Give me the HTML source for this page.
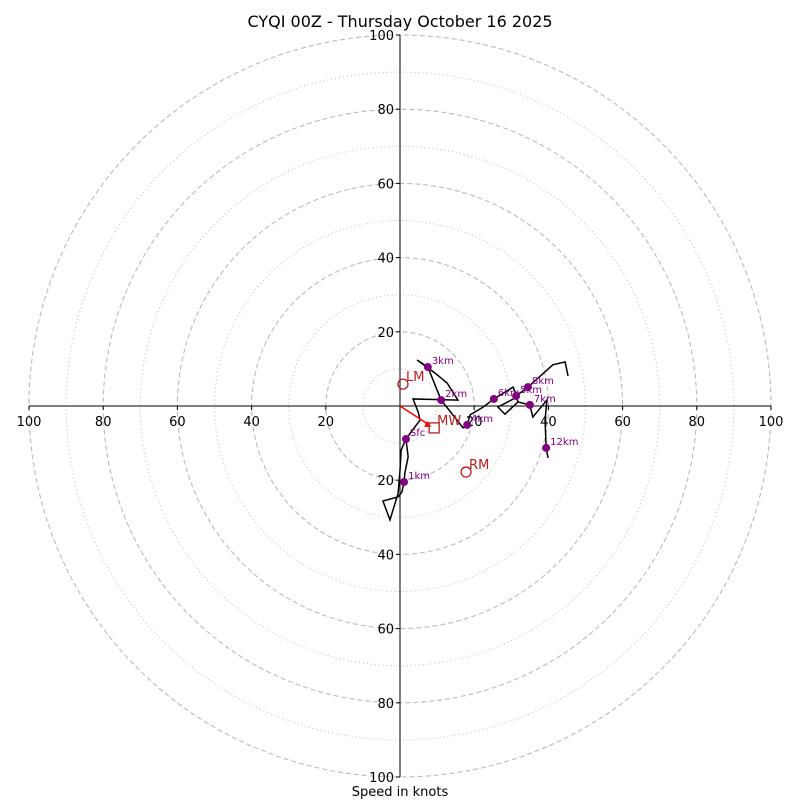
<!DOCTYPE html>
<html><head><meta charset="utf-8"><style>
body{margin:0;background:#fff;}
svg{display:block;font-family:"DejaVu Sans","Liberation Sans",sans-serif;}
</style></head><body>
<svg id="chart" width="800" height="800" viewBox="0 0 800 800">
<text x="400" y="27" text-anchor="middle" font-size="16">CYQI 00Z - Thursday October 16 2025</text>
<g id="rings"></g><g id="axes"></g><g id="series"></g>
<text x="400" y="796" text-anchor="middle" font-size="13">Speed in knots</text>
</svg>
<script>
const ringValues=[10,20,30,40,50,60,70,80,90,100];
const tickValues=[20,40,60,80,100];
const hodoU=[1.6,2.2,1.3,1.1,0.5,-0.5,-4.6,-2.7,-0.5,0,0.3,1.6,5.4,4.9,3.5,15.6,12.7,9.4,4.6,7.5,10.0,11.1,17.0,18.1,18.9,22.4,25.3,30.5,31.5,26.4,28.3,31.8,31.3,34.5,41.2,44.5,45.3];
const hodoV=[-8.9,-13.7,-18.1,-20.5,-23.2,-24.5,-25.6,-30.7,-23.5,-17.3,-11.9,-8.9,-3.8,-1.6,1.9,1.6,6.2,8.9,12.4,10.5,4.3,1.6,-5.9,-5.1,-2.4,-0.3,1.9,5.1,2.4,-0.3,-2.2,1.1,2.7,5.1,11.1,11.9,8.1];
const upperU=[31.8,35.0,35.8,39.6,39.1,39.4,39.9];
const upperV=[1.1,0.3,-3.0,1.6,-3.8,-11.3,-14.0];
const markerLabels=["Sfc","1km","2km","3km","4km","5km","6km","7km","8km","12km"];
const markerU=[1.6,1.1,11.1,7.5,18.1,31.3,25.3,35.0,34.5,39.4];
const markerV=[-8.9,-20.5,1.6,10.5,-5.1,2.7,1.9,0.3,5.1,-11.3];
const motionLabels=["LM","RM"];
const motionU=[0.8,17.8];
const motionV=[5.9,-17.8];
const meanWindU=9.2, meanWindV=-5.9;

const CX=400,CY=406,K=3.71;
const sx=u=>CX+u*K, sy=v=>CY-v*K;
const NS="http://www.w3.org/2000/svg";
function mk(tag,parent,attrs){const e=document.createElementNS(NS,tag);for(const k in attrs)e.setAttribute(k,attrs[k]);parent.appendChild(e);return e;}
const rings=document.getElementById('rings'),axes=document.getElementById('axes'),ser=document.getElementById('series');
ringValues.forEach(r=>{
  const c=mk('circle',rings,{cx:CX,cy:CY,r:r*K,fill:'none',stroke:'#bbb','stroke-width':r%20===0?1.1:1,'stroke-dasharray':r%20===0?'5,3':'1,3'});
  
  
});
let l=mk('line',axes,{x1:sx(-100),y1:CY,x2:sx(100),y2:CY,stroke:'#000','stroke-width':1});


l=mk('line',axes,{x1:CX,y1:sy(100),x2:CX,y2:sy(-100),stroke:'#000','stroke-width':1});


tickValues.forEach(t=>{
  [-1,1].forEach(s=>{
    const x=sx(s*t);
    mk('line',axes,{x1:x,y1:CY,x2:x,y2:CY+4,stroke:'#000'});
    const tx=mk('text',axes,{x:x,y:CY+20,'text-anchor':'middle','font-size':13});
    tx.textContent=t;
    
    
    const y=sy(s*t);
    mk('line',axes,{x1:CX-4,y1:y,x2:CX,y2:y,stroke:'#000'});
    const ty=mk('text',axes,{x:CX-6,y:y+5,'text-anchor':'end','font-size':13});
    ty.textContent=t;
    
    
  });
});
function poly(U,V,name){
  const p=mk('polyline',ser,{points:U.map((u,i)=>sx(u)+','+sy(V[i])).join(' '),fill:'none',stroke:'#000','stroke-width':1.5,'stroke-linejoin':'miter'});
  
  
}
poly(hodoU,hodoV,'hodograph-trace');
poly(upperU,upperV,'hodograph-trace-upper');
const ax=sx(meanWindU),ay=sy(meanWindV);
const ar=mk('line',ser,{x1:CX,y1:CY,x2:ax-5,y2:ay-3,stroke:'red','stroke-width':1.5});


mk('polygon',ser,{points:`${ax-3},${ay-1} ${ax-10},${ay-1} ${ax-7},${ay-7}`,fill:'red'});
const sq=mk('rect',ser,{x:ax-5,y:ay-5,width:10,height:10,fill:'none',stroke:'#b22222','stroke-width':1.3});


const mwt=mk('text',ser,{x:ax+3,y:ay-3,'font-size':13,fill:'#b22222'});mwt.textContent='MW';


motionLabels.forEach((n,i)=>{
  const x=sx(motionU[i]),y=sy(motionV[i]);
  const c=mk('circle',ser,{cx:x,cy:y,r:5,fill:'none',stroke:'#b22222','stroke-width':1.3});
  
  
  const t=mk('text',ser,{x:x+3,y:y-3,'font-size':13,fill:'#b22222'});t.textContent=n;
  
  
});
markerLabels.forEach((n,i)=>{
  const x=sx(markerU[i]),y=sy(markerV[i]);
  const c=mk('circle',ser,{cx:x,cy:y,r:4,fill:'purple'});
  
  
  const t=mk('text',ser,{x:x+4,y:y-3,'font-size':10,fill:'purple'});t.textContent=n;
  
  
});
</script>
</body></html>
